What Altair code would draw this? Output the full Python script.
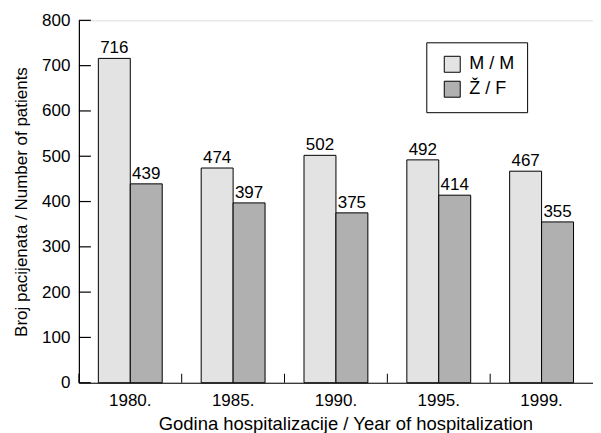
import altair as alt
import pandas as pd

years = ["1980.", "1985.", "1990.", "1995.", "1999."]
male = [716, 474, 502, 492, 467]
female = [439, 397, 375, 414, 355]
series = ["M / M", "Ž / F"]
y_ticks = [0, 100, 200, 300, 400, 500, 600, 700, 800]

rows = []
for i, yr in enumerate(years):
    rows.append({"year": yr, "sex": series[0], "n": male[i]})
    rows.append({"year": yr, "sex": series[1], "n": female[i]})
df = pd.DataFrame(rows)
df_years = pd.DataFrame({"year": years})
df_yt = pd.DataFrame({"v": y_ticks})

FONT = "Liberation Sans"
H = 363
W = 515

x_scale = alt.Scale(paddingInner=0, paddingOuter=0)
y_scale = alt.Scale(domain=[0, 800], nice=False)
off_scale = alt.Scale(domain=series, paddingInner=0, paddingOuter=0.61)

bars = alt.Chart(df).mark_bar(stroke="black", strokeWidth=1, opacity=1).encode(
    x=alt.X("year:N", sort=years, scale=x_scale,
            title="Godina hospitalizacije / Year of hospitalization",
            axis=alt.Axis(labelAngle=0, ticks=False, labelPadding=10, domainColor="black",
                          domainWidth=1.2, labelFontSize=17, labelColor="black",
                          titleFontSize=18.5, titleFontWeight="normal", titleColor="black",
                          titlePadding=6, titleX=267, labelFont=FONT, titleFont=FONT)),
    xOffset=alt.XOffset("sex:N", sort=series, scale=off_scale),
    y=alt.Y("n:Q", scale=y_scale, title="Broj pacijenata / Number of patients",
            axis=alt.Axis(values=y_ticks, ticks=False, grid=False, labelPadding=9,
                          domainColor="black", domainWidth=1.2, labelFontSize=17,
                          labelColor="black", titleFontSize=17, titleFontWeight="normal",
                          titleColor="black", titlePadding=11, labelFont=FONT, titleFont=FONT)),
    color=alt.Color("sex:N", sort=series,
                    scale=alt.Scale(domain=series, range=["#e3e3e3", "#b0b0b0"]),
                    legend=alt.Legend(title=None, orient="none", legendX=348, legendY=22,
                                      strokeColor="black", fillColor="white", padding=13,
                                      symbolType="square", symbolSize=256, symbolOffset=4,
                                      symbolStrokeColor="black", symbolStrokeWidth=1,
                                      labelFontSize=18, labelFont=FONT, labelColor="black",
                                      rowPadding=5, labelOffset=8, offset=0)),
)

labels = alt.Chart(df).mark_text(baseline="alphabetic", dy=-5, fontSize=17, font=FONT,
                                 color="black").encode(
    x=alt.X("year:N", sort=years),
    xOffset=alt.XOffset("sex:N", sort=series),
    y=alt.Y("n:Q"),
    text=alt.Text("n:Q"),
)

xticks = alt.Chart(df_years).mark_rule(color="black", strokeWidth=1).encode(
    x=alt.X("year:N", sort=years, bandPosition=0),
    y=alt.value(H),
    y2=alt.value(H - 9),
)

yticks = alt.Chart(df_yt).mark_rule(color="black", strokeWidth=1.2).encode(
    y=alt.Y("v:Q"),
    x=alt.value(0),
    x2=alt.value(12),
)

chart = alt.layer(bars, labels, xticks, yticks).properties(
    width=W, height=H,
    padding={"left": 4, "top": 3, "right": 0, "bottom": 5},
).configure_view(stroke=None).configure(background="white")

chart.save("out.html", embed_options={"renderer": "svg", "actions": False})
